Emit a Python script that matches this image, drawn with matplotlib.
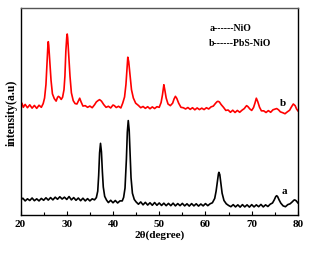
import matplotlib
matplotlib.use("Agg")
import matplotlib.pyplot as plt
from matplotlib.ticker import MultipleLocator

# curve a: NiO (black)
a_x = [20.0, 20.5, 21.0, 21.5, 22.0, 22.5, 23.0, 23.5, 24.0, 24.5, 25.0, 25.5, 26.0, 26.5,
       27.0, 27.5, 28.0, 28.5, 29.0, 29.5, 30.0, 30.5, 31.0, 31.5, 32.0, 32.5, 33.0, 33.5,
       34.0, 34.5, 35.0, 35.5, 36.0, 36.4, 36.7, 36.9, 37.1, 37.3, 37.5, 37.7, 37.9, 38.2,
       38.6, 39.0, 39.5, 40.0, 40.5, 41.0, 41.5, 42.0, 42.3, 42.6, 42.9, 43.1, 43.3, 43.5,
       43.7, 43.9, 44.2, 44.6, 45.0, 45.5, 46.0, 46.5, 47.0, 47.5, 48.0, 48.5, 49.0, 49.5,
       50.0, 50.5, 51.0, 51.5, 52.0, 52.5, 53.0, 53.5, 54.0, 54.5, 55.0, 55.5, 56.0, 56.5,
       57.0, 57.5, 58.0, 58.5, 59.0, 59.5, 60.0, 60.5, 61.0, 61.5, 62.0, 62.3, 62.6, 62.8,
       62.9, 63.1, 63.3, 63.6, 64.0, 64.5, 65.0, 65.5, 66.0, 66.5, 67.0, 67.5, 68.0, 68.5,
       69.0, 69.5, 70.0, 70.5, 71.0, 71.5, 72.0, 72.5, 73.0, 73.5, 74.0, 74.5, 74.9, 75.2,
       75.4, 75.6, 75.9, 76.3, 76.8, 77.3, 77.8, 78.3, 78.8, 79.1, 79.3, 79.6, 80.0]
a_y = [7.3, 8.1, 6.8, 7.8, 7.0, 8.2, 6.9, 7.8, 6.8, 8.0, 7.1, 8.3, 7.2, 8.4,
       7.3, 8.6, 7.6, 8.8, 7.7, 8.6, 7.5, 8.9, 7.3, 8.4, 7.1, 8.2, 6.9, 8.1,
       6.8, 7.9, 6.8, 7.8, 7.3, 8.4, 11.5, 19.0, 30.0, 34.6, 30.5, 21.0, 13.5, 9.0,
       7.2, 6.0, 7.1, 5.9, 7.0, 5.8, 6.8, 6.8, 8.5, 13.0, 27.0, 40.0, 45.6, 41.0,
       30.0, 18.0, 10.5, 7.5, 6.3, 5.2, 6.3, 4.9, 6.1, 4.8, 5.9, 4.7, 6.0, 4.7,
       5.8, 4.6, 5.7, 4.5, 5.6, 4.5, 5.7, 4.4, 5.5, 4.5, 5.6, 4.4, 5.4, 4.3,
       5.5, 4.4, 5.4, 4.3, 5.3, 4.4, 5.5, 4.5, 5.4, 5.9, 8.0, 11.5, 16.5, 19.8,
       20.6, 19.5, 16.0, 10.5, 7.0, 5.4, 4.6, 4.0, 5.0, 3.9, 4.9, 3.8, 5.0, 3.9,
       4.9, 3.8, 5.0, 3.9, 4.9, 4.0, 5.1, 3.9, 4.9, 4.1, 5.2, 5.8, 7.4, 8.9,
       9.3, 8.9, 7.4, 5.7, 4.4, 4.0, 5.0, 5.4, 6.4, 7.1, 7.3, 6.9, 5.8]

# curve b: PbS-NiO (red)
b_x = [20.0, 20.3, 20.6, 21.0, 21.5, 22.0, 22.5, 23.0, 23.5, 24.0, 24.5, 24.9, 25.2, 25.5,
       25.7, 25.9, 26.0, 26.1, 26.3, 26.6, 26.9, 27.3, 27.7, 28.0, 28.2, 28.5, 28.8, 29.1,
       29.4, 29.6, 29.8, 30.0, 30.1, 30.2, 30.4, 30.7, 31.0, 31.4, 31.8, 32.2, 32.5, 32.8,
       33.1, 33.5, 34.0, 34.5, 35.0, 35.5, 36.0, 36.4, 36.8, 37.1, 37.5, 38.0, 38.5, 39.0,
       39.5, 40.0, 40.3, 40.7, 41.2, 41.7, 42.1, 42.5, 42.8, 43.0, 43.2, 43.4, 43.7, 44.0,
       44.4, 44.9, 45.5, 46.0, 46.5, 47.0, 47.5, 48.0, 48.5, 49.0, 49.5, 50.0, 50.4, 50.7,
       50.9, 51.0, 51.2, 51.5, 51.9, 52.4, 52.9, 53.2, 53.5, 53.8, 54.2, 54.7, 55.2, 55.7,
       56.2, 56.7, 57.2, 57.7, 58.2, 58.7, 59.2, 59.7, 60.2, 60.7, 61.2, 61.7, 62.2, 62.5,
       62.7, 63.0, 63.4, 63.9, 64.4, 64.9, 65.4, 65.9, 66.4, 66.9, 67.4, 67.9, 68.4, 68.7,
       68.9, 69.2, 69.6, 70.0, 70.4, 70.7, 71.0, 71.3, 71.7, 72.1, 72.6, 73.1, 73.6, 74.1,
       74.6, 75.0, 75.4, 75.8, 76.2, 76.7, 77.2, 77.7, 78.2, 78.6, 79.0, 79.4, 79.7, 80.0]
b_y = [52.0, 54.0, 52.0, 53.4, 51.8, 53.2, 51.6, 52.9, 51.5, 53.0, 52.0, 53.8, 56.5, 63.0,
       72.0, 81.0, 83.7, 82.0, 75.0, 65.0, 58.5, 56.2, 55.0, 56.8, 57.3, 56.8, 55.8, 56.9,
       60.5, 67.0, 79.0, 86.0, 87.4, 85.5, 78.0, 67.0, 59.0, 55.2, 53.8, 53.6, 55.0, 56.4,
       54.6, 52.6, 52.8, 52.0, 52.6, 51.8, 53.2, 54.6, 55.3, 55.7, 55.0, 53.3, 52.0, 52.5,
       51.7, 53.1, 52.8, 51.9, 52.5, 51.7, 54.0, 57.0, 63.0, 70.0, 76.2, 74.0, 67.0, 60.5,
       56.5, 54.0, 52.9, 51.8, 52.4, 51.5, 52.3, 51.3, 52.2, 51.4, 52.3, 52.0, 54.3, 58.0,
       61.5, 62.9, 60.5, 56.5, 53.6, 52.8, 54.0, 56.0, 57.3, 56.3, 54.0, 52.0, 51.8, 51.2,
       51.9, 51.0, 51.8, 50.8, 51.7, 50.9, 51.6, 50.9, 51.8, 51.2, 52.2, 52.6, 54.0, 54.7,
       54.9, 54.6, 53.3, 52.0, 50.5, 50.7, 49.6, 50.6, 49.5, 50.5, 49.6, 50.6, 51.4, 52.3,
       52.8, 52.3, 51.2, 50.5, 51.9, 54.0, 56.4, 54.8, 52.0, 50.3, 50.3, 49.5, 50.4, 49.6,
       50.8, 51.1, 51.4, 50.8, 49.8, 49.4, 48.9, 49.8, 50.6, 52.2, 53.6, 52.8, 51.2, 50.3]

txt_fmt = dict(family="Liberation Serif", fontweight="bold")

fig = plt.figure(figsize=(3.11, 2.55), dpi=100, facecolor="white")
ax = fig.add_axes([0.066, 0.153, 0.892, 0.812])

ax.plot(a_x, a_y, color="black", linewidth=1.2)
ax.plot(b_x, b_y, color="#ff0000", linewidth=1.2)

ax.set_xlim(20, 80)
ax.set_ylim(0, 100)
ax.set_yticks([])
ax.xaxis.set_major_locator(MultipleLocator(10))
ax.xaxis.set_minor_locator(MultipleLocator(5))
ax.tick_params(axis="x", which="major", direction="in", length=3, width=0.8, pad=3, labelsize=8)
ax.tick_params(axis="x", which="minor", direction="in", length=2, width=0.8)
for lbl in ax.get_xticklabels():
    lbl.set_fontfamily("Liberation Serif")
    lbl.set_fontweight("bold")

for side in ["left", "right", "bottom", "top"]:
    ax.spines[side].set_linewidth(1.0)
    ax.spines[side].set_color("black")
ax.spines["top"].set_color("#555555")

ax.set_xlabel("2θ(degree)", fontsize=8, labelpad=1, **txt_fmt)
ax.set_ylabel("intensity(a.u)", fontsize=8.5, labelpad=2, **txt_fmt)

ax.text(0.68, 0.905, "a------NiO", transform=ax.transAxes, fontsize=7, va="center", **txt_fmt)
ax.text(0.68, 0.835, "b------PbS-NiO", transform=ax.transAxes, fontsize=7, va="center", **txt_fmt)
ax.text(0.947, 0.545, "b", transform=ax.transAxes, fontsize=8, va="center", ha="center", **txt_fmt)
ax.text(0.952, 0.12, "a", transform=ax.transAxes, fontsize=8, va="center", ha="center", **txt_fmt)

fig.savefig("out.png", dpi=100, facecolor="white")
